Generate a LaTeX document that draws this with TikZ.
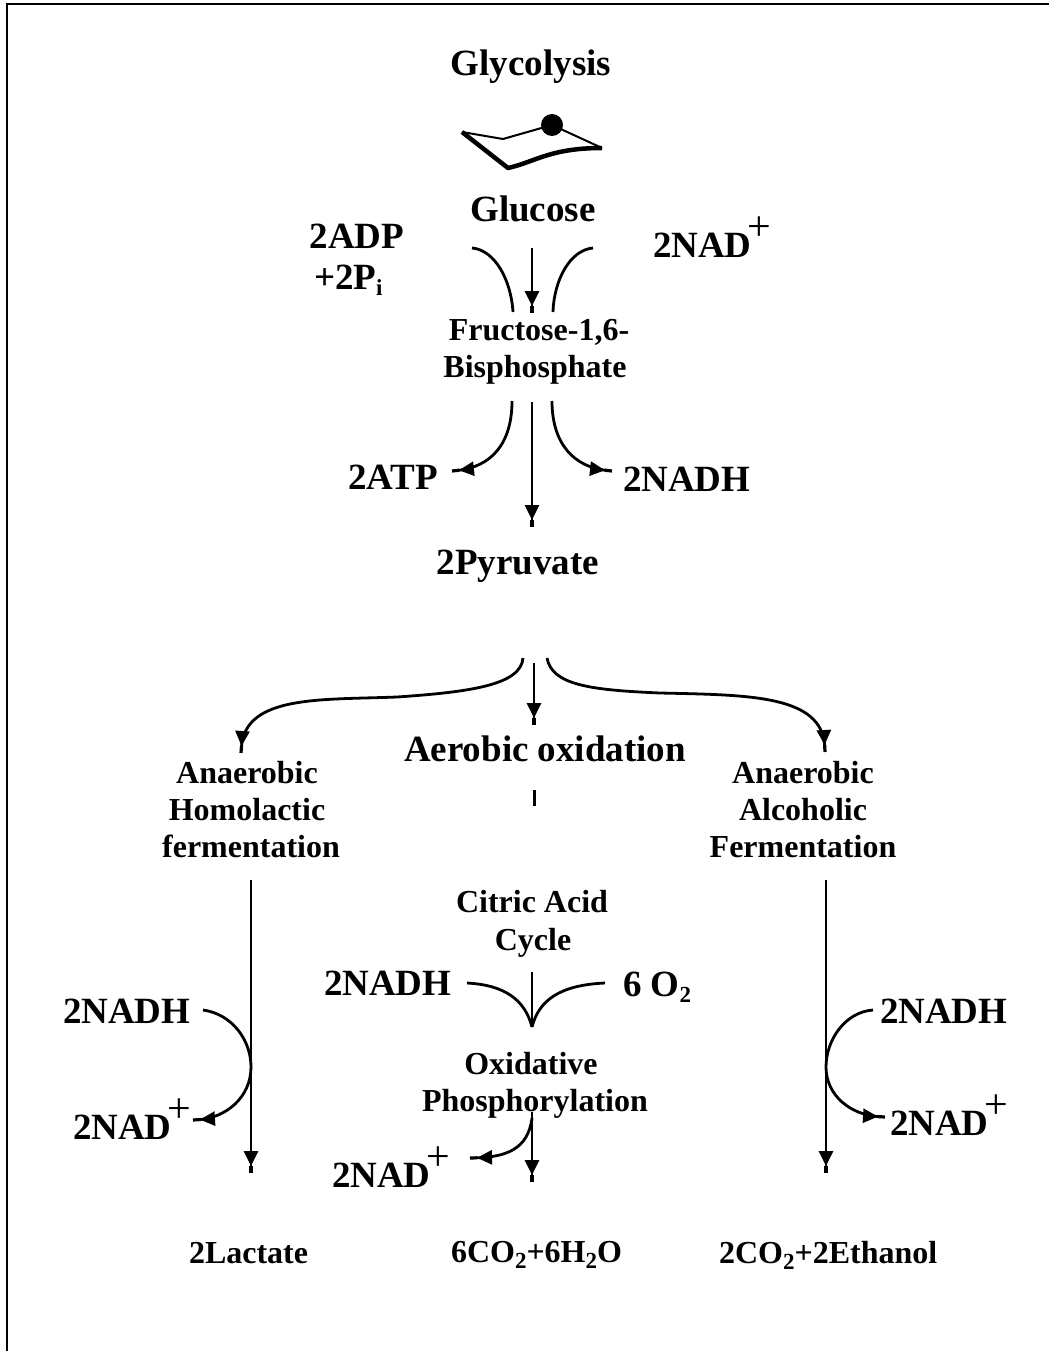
\documentclass[tikz,border=0pt]{standalone}
\usepackage{fontspec}
\setmainfont{Liberation Serif}
\usetikzlibrary{arrows.meta}
\tikzset{
  lab/.style={inner sep=0pt,outer sep=0pt,font=\bfseries\fontsize{37}{37}\selectfont,anchor=base},
  labl/.style={lab,anchor=base west},
  sm/.style={lab,font=\bfseries\fontsize{32}{32}\selectfont},
  sml/.style={sm,anchor=base west},
  con/.style={line width=2.8pt,line cap=butt},
  arr/.style={con,-{Triangle[length=15pt,width=14pt]Rectangle[length=7pt,width=2.4pt]}}
}
\newcommand{\plusup}{\kern-4pt\raisebox{17pt}{\mdseries\fontsize{42}{42}\selectfont +}}
\newcommand{\subs}[1]{\raisebox{-6pt}{\fontsize{23}{23}\selectfont #1}}
\begin{document}
\begin{tikzpicture}[x=1pt,y=-1pt]
\useasboundingbox (0,0) rectangle (1049,1351);
\fill[white] (0,0) rectangle (1049,1351);
\draw[line width=2.2pt] (7,1351) -- (7,4) -- (1049,4);
% labels
\node[lab] (gly) at (531,76) {Glycolysis};
\node[lab] (glu) at (533,222) {Glucose};
\node[lab] (adp) at (357,248) {2ADP};
\node[labl] (pi) at (314,289) {+2P\subs{i}};
\node[labl] (nadp1) at (653,257) {2NAD\plusup};
\node[sm] (fru) at (539,340) {Fructose-1,6-};
\node[sm] (bis) at (535,377) {Bisphosphate};
\node[labl] (atp) at (348,489) {2ATP};
\node[labl] (nadh1) at (623,491) {2NADH};
\node[lab] (pyr) at (518,574) {2Pyruvate};
\node[lab] (aer) at (545,761) {Aerobic oxidation};
\node[sm] (an1) at (247,783) {Anaerobic};
\node[sm] (hom) at (247,820) {Homolactic};
\node[sm] (fer) at (251,857) {fermentation};
\node[sm] (an2) at (803,783) {Anaerobic};
\node[sm] (alc) at (803,820) {Alcoholic};
\node[sm] (fer2) at (803,857) {Fermentation};
\node[sm] (cit) at (532,912) {Citric Acid};
\node[sm] (cyc) at (533,950) {Cycle};
\node[labl] (nadh2) at (324,995) {2NADH};
\node[labl] (oo) at (623,996) {6 O\subs{2}};
\node[sm] (oxi) at (531,1074) {Oxidative};
\node[sm] (pho) at (535,1111) {Phosphorylation};
\node[labl] (nadp2) at (332,1187) {2NAD\plusup};
\node[labl] (nadh3) at (63,1023) {2NADH};
\node[labl] (nadp3) at (73,1139) {2NAD\plusup};
\node[labl] (nadh4) at (880,1023) {2NADH};
\node[labl] (nadp4) at (890,1135) {2NAD\plusup};
\node[sml] (lac) at (189,1263) {2Lactate};
\node[sml] (co) at (451,1262) {6CO\subs{2}+6H\subs{2}O};
\node[sml] (eth) at (719,1263) {2CO\subs{2}+2Ethanol};
% free ends
\coordinate (a1) at (532,248); \coordinate (a2) at (532,313);
\coordinate (b1) at (472,248); \coordinate (b2) at (513,312);
\coordinate (c1) at (593,248); \coordinate (c2) at (553,312);
\coordinate (d1) at (512,401); \coordinate (d2) at (452,471);
\coordinate (e1) at (552,401); \coordinate (e2) at (612,471);
\coordinate (f1) at (532,402); \coordinate (f2) at (532,527);
\coordinate (g1) at (523,658); \coordinate (g2) at (241,753);
\coordinate (g3) at (397,697);
\coordinate (h1) at (547,658); \coordinate (h2) at (825,752);
\coordinate (h3) at (660,693);
\coordinate (i1) at (534,663); \coordinate (i2) at (534,725);
\coordinate (j1) at (534,790); \coordinate (j2) at (534,806);
\coordinate (k1) at (251,880); \coordinate (k2) at (251,1173);
\coordinate (l1) at (826,880); \coordinate (l2) at (826,1173);
\coordinate (m1) at (532,972); \coordinate (m2) at (532,1027);
\coordinate (n1) at (467,983); \coordinate (n2) at (605,983);
\coordinate (o1) at (532,1112); \coordinate (o2) at (532,1182);
\coordinate (o3) at (532,1118); \coordinate (o4) at (470,1158);
\coordinate (p1) at (203,1010); \coordinate (p2) at (251,1067); \coordinate (p3) at (193,1120);
\coordinate (q1) at (873,1010); \coordinate (q2) at (826,1067); \coordinate (q3) at (885,1117);
% connectors
\draw[arr] (a1) -- (a2);
\draw[con] (b1) .. controls (495,250) and (511,280) .. (b2);
\draw[con] (c1) .. controls (570,250) and (554,280) .. (c2);
\draw[arr] (d1) .. controls (512,445) and (490,467) .. (d2);
\draw[arr] (e1) .. controls (552,445) and (575,467) .. (e2);
\draw[arr] (f1) -- (f2);
\draw[arr] (g1) .. controls (521,685) and (470,692) .. (g3) .. controls (320,700) and (245,695) .. (g2);
\draw[arr] (h1) .. controls (552,685) and (590,690) .. (h3) .. controls (750,695) and (822,695) .. (h2);
\draw[arr] (i1) -- (i2);
\draw[line width=3pt] (j1) -- (j2);
\draw[arr] (k1) -- (k2);
\draw[arr] (l1) -- (l2);
\draw[con] (m1) -- (m2);
\draw[con] (n1) .. controls (505,985) and (525,1000) .. (m2);
\draw[con] (n2) .. controls (560,985) and (539,1000) .. (m2);
\draw[arr] (o1) -- (o2);
\draw[arr] (o3) .. controls (528,1150) and (505,1157) .. (o4);
\draw[arr] (p1) .. controls (232,1014) and (251,1040) .. (p2) .. controls (251,1098) and (225,1118) .. (p3);
\draw[arr] (q1) .. controls (845,1012) and (826,1040) .. (q2) .. controls (826,1095) and (850,1115) .. (q3);
% glucose ring
\coordinate (r1) at (462,132); \coordinate (r2) at (503,139); \coordinate (r3) at (552,125);
\coordinate (r4) at (602,148); \coordinate (r5) at (508,168);
\draw[line width=2pt] (r1) -- (r2) -- (r3) -- (r4);
\draw[line width=4.5pt,line join=round] (r1) -- (r5) .. controls (535,162) and (550,148) .. (r4);
\fill (r3) circle (11pt);
\end{tikzpicture}
\end{document}
